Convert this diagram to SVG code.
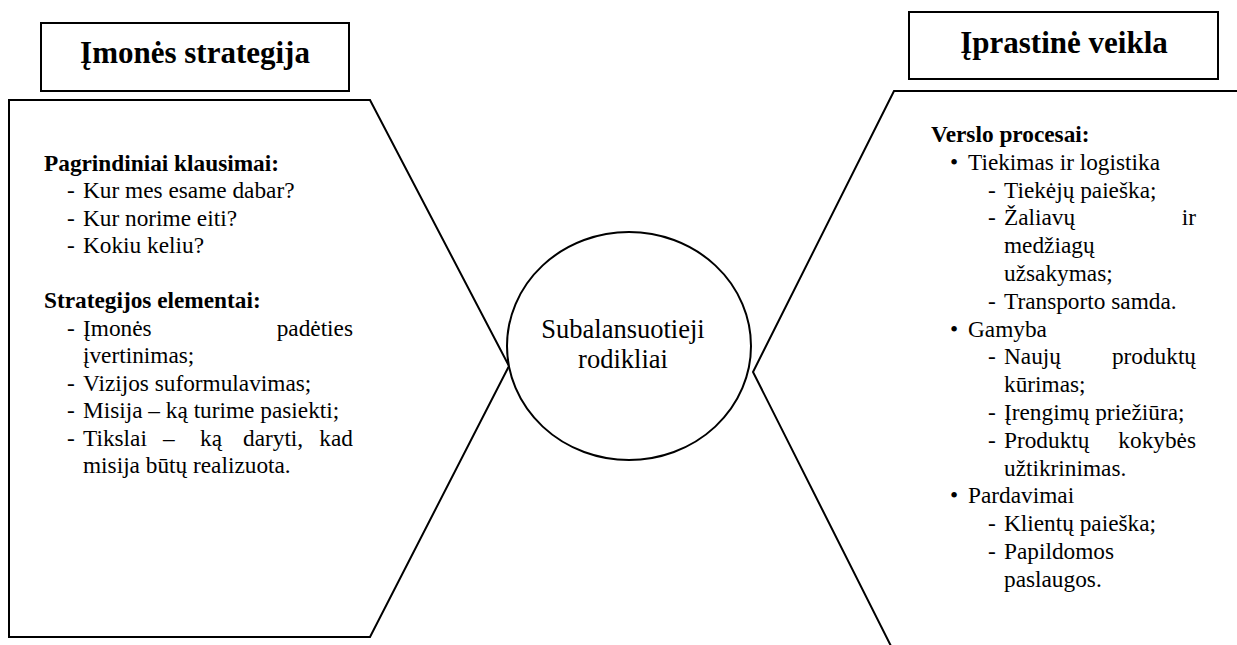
<svg xmlns="http://www.w3.org/2000/svg" width="1237" height="645" viewBox="0 0 1237 645">
<style>
.shape{fill:#fff;stroke:#000;stroke-width:2}
.open{fill:none;stroke:#000;stroke-width:2}
text{font-family:"Liberation Serif","Times New Roman",serif;fill:#000;font-size:23.3px}
.title{font-size:31px;font-weight:bold;text-anchor:middle}
.b{font-weight:bold}
.end{text-anchor:end}
.mid{text-anchor:middle;font-size:26.5px}
</style>
<rect width="1237" height="645" fill="#fff"/>
<g id="left-title">
<rect class="shape" x="41" y="23" width="308" height="68"/>
<text class="title" x="195" y="63">Įmonės strategija</text>
</g>
<g id="right-title">
<rect class="shape" x="909" y="12" width="309" height="67"/>
<text class="title" x="1064" y="53">Įprastinė veikla</text>
</g>
<g id="left-panel">
<polygon class="shape" points="9,100 370,100 509,366 370,637 9,637"/>
<text class="b" x="44" y="171">Pagrindiniai klausimai:</text>
<text x="67" y="198">-</text><text x="83" y="198">Kur mes esame dabar?</text>
<text x="67" y="225.5">-</text><text x="83" y="225.5">Kur norime eiti?</text>
<text x="67" y="253">-</text><text x="83" y="253">Kokiu keliu?</text>
<text class="b" x="44" y="308">Strategijos elementai:</text>
<text x="67" y="335.5">-</text><text x="83" y="335.5">Įmonės</text><text class="end" x="353" y="335.5">padėties</text>
<text x="83" y="363">įvertinimas;</text>
<text x="67" y="390.5">-</text><text x="83" y="390.5">Vizijos suformulavimas;</text>
<text x="67" y="418">-</text><text x="83" y="418">Misija – ką turime pasiekti;</text>
<text x="67" y="445.5">-</text><text x="83" y="445.5">Tikslai</text><text x="163" y="445.5">–</text><text x="200" y="445.5">ką</text><text x="243" y="445.5">daryti,</text><text class="end" x="353" y="445.5">kad</text>
<text x="83" y="473">misija būtų realizuota.</text>
</g>
<g id="right-panel">
<polyline class="open" points="1245,91 894,91 753,372 897,658"/>
<text class="b" x="931" y="142">Verslo procesai:</text>
<text x="950" y="169.8">•</text><text x="968" y="169.8">Tiekimas ir logistika</text>
<text x="988" y="197.6">-</text><text x="1004" y="197.6">Tiekėjų paieška;</text>
<text x="988" y="225.4">-</text><text x="1004" y="225.4">Žaliavų</text><text class="end" x="1196" y="225.4">ir</text>
<text x="1004" y="253.2">medžiagų</text>
<text x="1004" y="281">užsakymas;</text>
<text x="988" y="308.8">-</text><text x="1004" y="308.8">Transporto samda.</text>
<text x="950" y="336.6">•</text><text x="968" y="336.6">Gamyba</text>
<text x="988" y="364.4">-</text><text x="1004" y="364.4">Naujų</text><text class="end" x="1196" y="364.4">produktų</text>
<text x="1004" y="392.2">kūrimas;</text>
<text x="988" y="420">-</text><text x="1004" y="420">Įrengimų priežiūra;</text>
<text x="988" y="447.8">-</text><text x="1004" y="447.8">Produktų</text><text class="end" x="1196" y="447.8">kokybės</text>
<text x="1004" y="475.6">užtikrinimas.</text>
<text x="950" y="503.4">•</text><text x="968" y="503.4">Pardavimai</text>
<text x="988" y="531.2">-</text><text x="1004" y="531.2">Klientų paieška;</text>
<text x="988" y="559">-</text><text x="1004" y="559">Papildomos</text>
<text x="1004" y="586.8">paslaugos.</text>
</g>
<g id="center">
<ellipse class="shape" cx="629" cy="346" rx="122" ry="114"/>
<text class="mid" x="623" y="338">Subalansuotieji</text>
<text class="mid" x="623" y="368">rodikliai</text>
</g>
<g id="connectors"/>
</svg>
